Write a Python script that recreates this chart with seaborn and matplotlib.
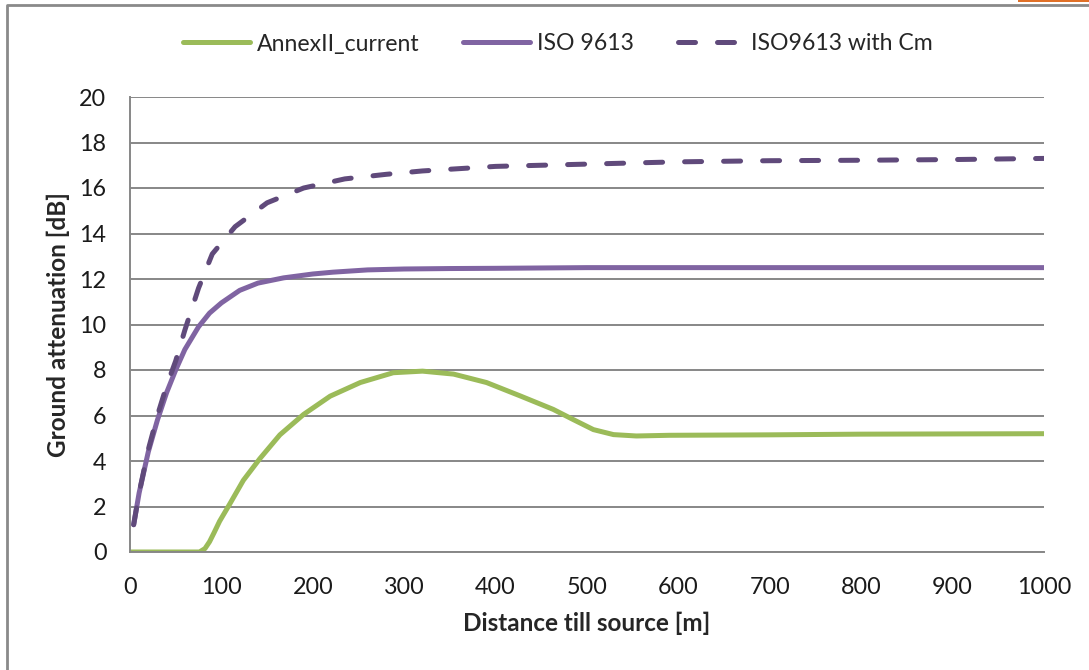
import numpy as np
import pandas as pd
import matplotlib.pyplot as plt
import seaborn as sns
from matplotlib.lines import Line2D
from matplotlib.patches import Rectangle

# Values
annex_dist = [0, 40, 76, 82, 87, 92, 98, 109, 124, 142, 164, 190, 219, 252, 288, 320, 354,
              390, 427, 463, 485, 507, 529, 554, 590, 700, 800, 900, 1000]
annex_att = [0, 0, 0, 0.15, 0.45, 0.85, 1.35, 2.1, 3.15, 4.1, 5.15, 6.05, 6.85, 7.45, 7.88,
             7.95, 7.82, 7.45, 6.86, 6.27, 5.82, 5.38, 5.16, 5.1, 5.13, 5.15, 5.18, 5.19, 5.2]

iso_dist = [4, 10, 20, 30, 40, 50, 60, 75, 87, 100, 120, 140, 168, 200, 222, 260, 300,
            350, 400, 500, 600, 700, 800, 900, 1000]
iso_att = [1.2, 2.6, 4.4, 5.8, 7.0, 8.0, 8.9, 9.9, 10.5, 10.95, 11.5, 11.82, 12.05, 12.22,
           12.3, 12.4, 12.44, 12.46, 12.47, 12.5, 12.5, 12.5, 12.5, 12.5, 12.5]

cm_dist = [4, 10, 20, 30, 40, 50, 60, 75, 90, 115, 150, 190, 235, 280, 320, 400, 500,
           600, 700, 800, 900, 1000]
cm_att = [1.2, 2.6, 4.5, 6.0, 7.3, 8.4, 9.75, 11.6, 13.1, 14.3, 15.35, 16.0, 16.4, 16.6,
          16.75, 16.95, 17.05, 17.15, 17.2, 17.22, 17.25, 17.3]

x_ticks = [0, 100, 200, 300, 400, 500, 600, 700, 800, 900, 1000]
y_ticks = [0, 2, 4, 6, 8, 10, 12, 14, 16, 18, 20]

sns.set_theme(style="white")
plt.rcParams['font.family'] = ['Lato', 'DejaVu Sans']

grid_col = '#878787'

fig = plt.figure(figsize=(10.89, 6.70), dpi=100)
ax = fig.add_axes([130 / 1089, 1 - 552 / 670, (1044 - 130) / 1089, (552 - 97) / 670])

sns.lineplot(x=annex_dist, y=annex_att, ax=ax, color='#9BBB59', linewidth=3.6,
             label='AnnexII_current')
sns.lineplot(x=iso_dist, y=iso_att, ax=ax, color='#8064A2', linewidth=3.6,
             label='ISO 9613')
sns.lineplot(x=cm_dist, y=cm_att, ax=ax, color='#604A7B', linewidth=3.6,
             label='ISO9613 with Cm')
for ln in ax.lines:
    ln.set_solid_joinstyle('round')
    ln.set_solid_capstyle('round')
ax.lines[-1].set_dashes((3.4, 4.4))
ax.lines[-1].set_dash_capstyle('round')
ax.lines[-1].set_dash_joinstyle('round')

ax.set_xlim(0, 1000)
ax.set_ylim(0, 20)
ax.set_xticks(x_ticks)
ax.set_yticks(y_ticks)
ax.yaxis.grid(True, color=grid_col, linewidth=1.4)
ax.set_axisbelow(True)
for s in ['top', 'right']:
    ax.spines[s].set_visible(False)
for s in ['left', 'bottom']:
    ax.spines[s].set_color(grid_col)
    ax.spines[s].set_linewidth(1.4)
ax.tick_params(axis='both', which='major', direction='out', length=6, width=1.2,
               color=grid_col, labelsize=16.8, labelcolor='#1a1a1a')
ax.tick_params(axis='y', pad=11)
ax.tick_params(axis='x', pad=12)

ax.set_xlabel('Distance till source [m]', fontsize=17.5, fontweight='bold', labelpad=10)
ax.set_ylabel('Ground attenuation [dB]', fontsize=17.5, fontweight='bold', labelpad=7)

handles, labels = ax.get_legend_handles_labels()
ax.get_legend().remove()
fig.legend(handles, labels, loc='center', bbox_to_anchor=(558 / 1089, 1 - 44 / 670),
           ncol=3, frameon=False, fontsize=16.6, handlelength=2.9, handletextpad=0.3,
           columnspacing=1.9)

# outer chart frame and the orange mark at the top right
fig.add_artist(Line2D([7 / 1089, 7 / 1089, 1.0], [0.0, 1 - 5 / 670, 1 - 5 / 670],
                      transform=fig.transFigure, color='#8a8a8a', linewidth=2))
fig.add_artist(Rectangle((1018 / 1089, 1 - 2 / 670), 71 / 1089, 2 / 670,
                         transform=fig.transFigure, color='#E07027', linewidth=0))

fig.savefig('out.png', dpi=100)
